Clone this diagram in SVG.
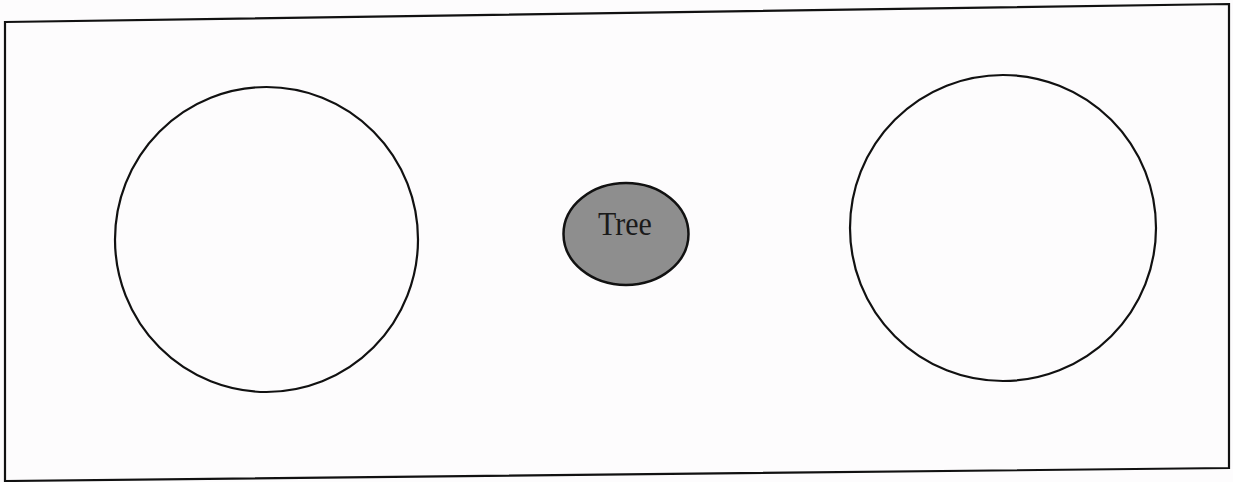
<svg xmlns="http://www.w3.org/2000/svg" width="1233" height="482" viewBox="0 0 1233 482">
<style>
.shape{fill:none;stroke:#111;stroke-width:2.2}
.lbl{font-family:"Liberation Serif","Times New Roman",serif;font-size:30px;fill:#1a1a1a}
</style>
<rect width="1233" height="482" fill="#fdfcfd"/>
<g id="frame"><polygon class="shape" points="5,22 1229,4 1229,468 5,481" stroke-width="2.5"/></g>
<g id="connectors"></g>
<g id="left-circle"><ellipse class="shape" cx="266.5" cy="239.5" rx="151.5" ry="152.5"/></g>
<g id="tree"><ellipse cx="626" cy="234" rx="62.5" ry="51" fill="#8e8e8e" stroke="#111" stroke-width="2.5"/><text class="lbl" text-anchor="middle" transform="translate(625,235) scale(1,1.12)">Tree</text></g>
<g id="right-circle"><ellipse class="shape" cx="1003" cy="228" rx="153" ry="153"/></g>
</svg>
